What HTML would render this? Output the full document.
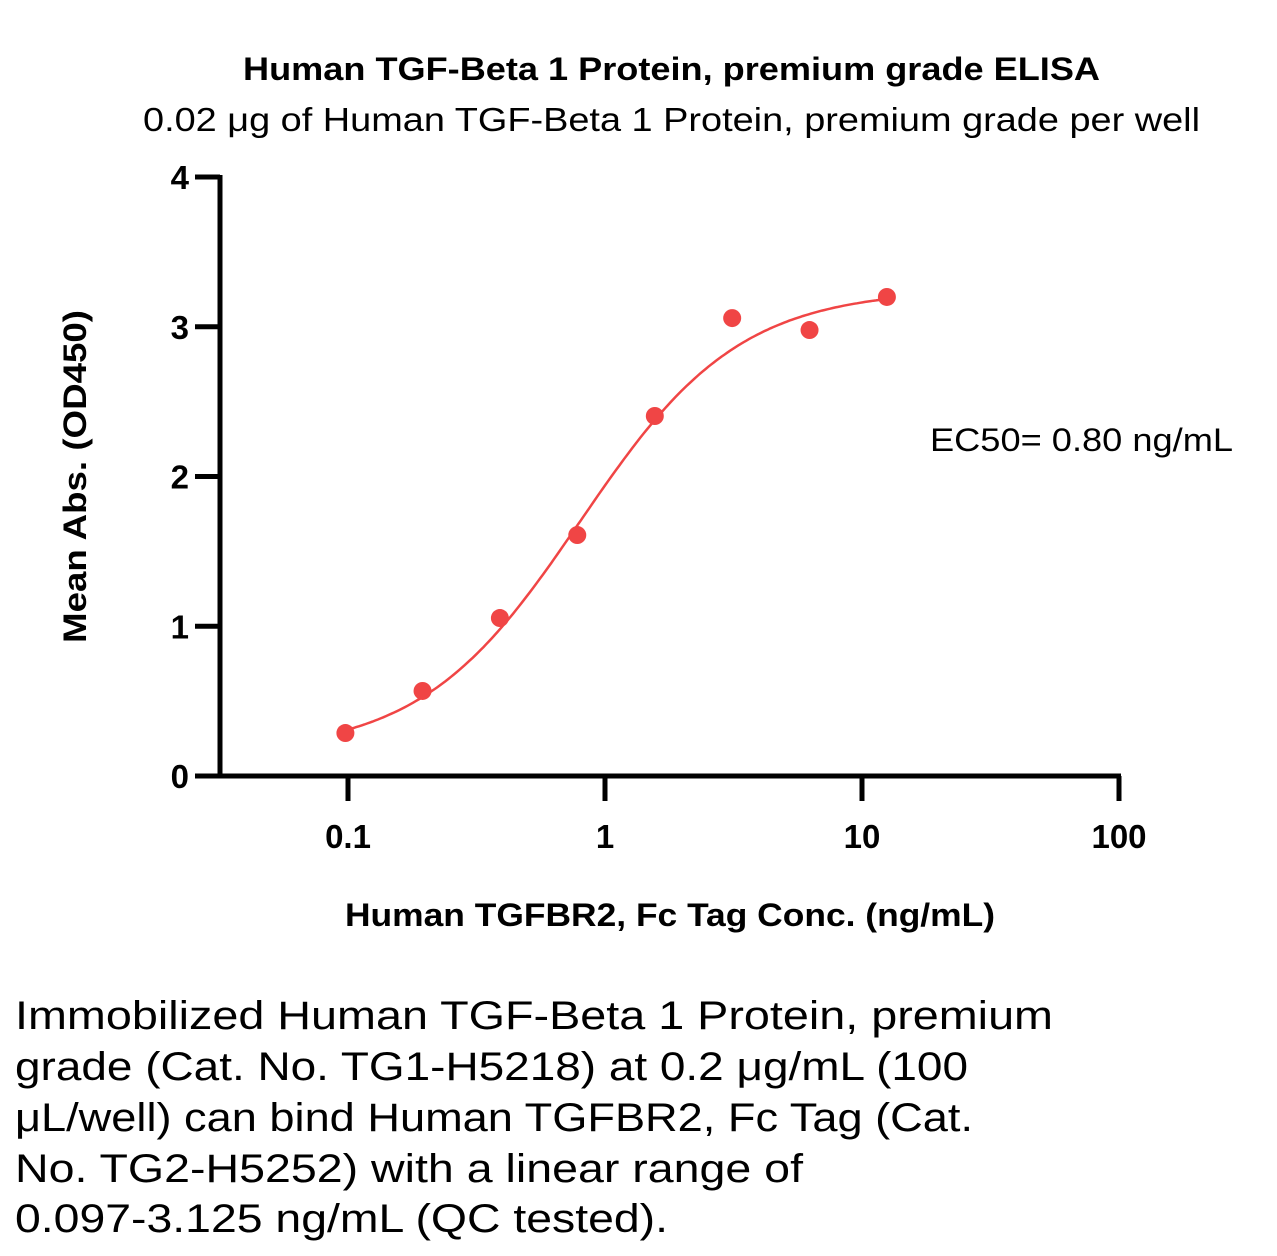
<!DOCTYPE html>
<html><head><meta charset="utf-8"><style>
body{margin:0;background:#fff;width:1277px;height:1256px;overflow:hidden;font-family:"Liberation Sans",sans-serif;}
svg{position:absolute;left:0;top:0}
</style></head><body>
<svg id="chart" width="1277" height="1256">
<text x="243" y="80" textLength="857" lengthAdjust="spacingAndGlyphs" font-size="32" font-weight="bold">Human TGF-Beta 1 Protein, premium grade ELISA</text>
<text x="143" y="131" textLength="1057" lengthAdjust="spacingAndGlyphs" font-size="33">0.02 μg of Human TGF-Beta 1 Protein, premium grade per well</text>
<text x="0" y="0" transform="translate(86,643) rotate(-90)" textLength="333" lengthAdjust="spacingAndGlyphs" font-size="32" font-weight="bold">Mean Abs. (OD450)</text>
<text x="345" y="926" textLength="650" lengthAdjust="spacingAndGlyphs" font-size="32" font-weight="bold">Human TGFBR2, Fc Tag Conc. (ng/mL)</text>
<text x="930" y="451" textLength="303" lengthAdjust="spacingAndGlyphs" font-size="32">EC50= 0.80 ng/mL</text>
<g font-size="40">
<text x="15" y="1029" textLength="1038" lengthAdjust="spacingAndGlyphs">Immobilized Human TGF-Beta 1 Protein, premium</text>
<text x="15" y="1080" textLength="953" lengthAdjust="spacingAndGlyphs">grade (Cat. No. TG1-H5218) at 0.2 μg/mL (100</text>
<text x="15" y="1131" textLength="958" lengthAdjust="spacingAndGlyphs">μL/well) can bind Human TGFBR2, Fc Tag (Cat.</text>
<text x="15" y="1182" textLength="788" lengthAdjust="spacingAndGlyphs">No. TG2-H5252) with a linear range of</text>
<text x="15" y="1232" textLength="653" lengthAdjust="spacingAndGlyphs">0.097-3.125 ng/mL (QC tested).</text>
</g>
<g id="axes"></g><g id="marks"></g>
</svg>
<script>
const conc=[0.0977,0.195,0.39,0.78,1.5625,3.125,6.25,12.5];
const absVals=[0.287,0.568,1.055,1.609,2.404,3.058,2.978,3.199];
const yTicks=[0,1,2,3,4];
const xTicks=[0.1,1,10,100];
const xTickLabels=["0.1","1","10","100"];
const fitBottom=0.15, fitTop=3.25, fitEC50=0.8, fitHill=1.4;
const NS="http://www.w3.org/2000/svg";
const X=v=>605+257*Math.log10(v);
const Y=v=>776-149.75*v;
function mk(t,a,p){const e=document.createElementNS(NS,t);for(const k in a)e.setAttribute(k,a[k]);p.appendChild(e);return e;}
const ax=document.getElementById('axes'),mg=document.getElementById('marks');
const yl=mk('line',{x1:220,y1:Y(4)-2,x2:220,y2:778,stroke:'#000','stroke-width':5},ax);


const xl=mk('line',{x1:218,y1:776,x2:X(100)+2,y2:776,stroke:'#000','stroke-width':5},ax);


yTicks.forEach(v=>{
 const l=mk('line',{x1:195,y1:Y(v),x2:220,y2:Y(v),stroke:'#000','stroke-width':5},ax);
 
 
 const t=mk('text',{x:189,y:Y(v)+12,'text-anchor':'end','font-size':33,'font-weight':'bold'},ax);t.textContent=v;
 
 
});
xTicks.forEach((v,i)=>{
 const l=mk('line',{x1:X(v),y1:776,x2:X(v),y2:801,stroke:'#000','stroke-width':5},ax);
 
 
 const t=mk('text',{x:X(v),y:848,'text-anchor':'middle','font-size':33,'font-weight':'bold'},ax);t.textContent=xTickLabels[i];
 
 
});
const f=x=>fitBottom+(fitTop-fitBottom)*Math.pow(x/fitEC50,fitHill)/(1+Math.pow(x/fitEC50,fitHill));
let d='';const lo=Math.log10(conc[0]),hi=Math.log10(conc[conc.length-1]);
for(let i=0;i<=200;i++){const x=Math.pow(10,lo+(hi-lo)*i/200);d+=(i?'L':'M')+X(x).toFixed(1)+','+Y(f(x)).toFixed(1);}
const c=mk('path',{d:d,fill:'none',stroke:'#f04545','stroke-width':2.5},mg);


conc.forEach((x,i)=>{
 const p=mk('circle',{cx:X(x),cy:Y(absVals[i]),r:9,fill:'#f04545'},mg);
 
 
});
</script>
</body></html>
